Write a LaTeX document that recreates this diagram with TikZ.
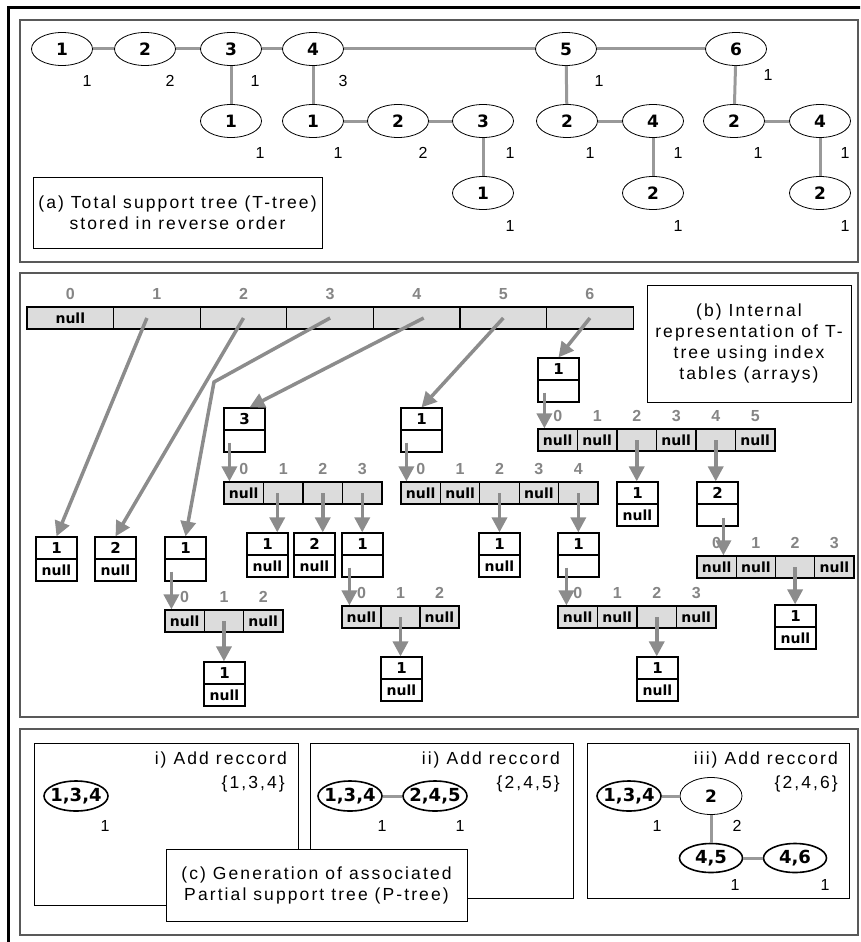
\documentclass[tikz,border=0pt]{standalone}
\usepackage{fontspec}
\setmainfont{Liberation Sans}
\newfontfamily\capfam{Liberation Sans}[LetterSpace=12]
\newfontfamily\cellfam{DejaVu Sans}
\usepackage{tikz}
\usetikzlibrary{arrows.meta}
\usetikzlibrary{shapes.geometric}
\definecolor{linkgray}{HTML}{999999}
\definecolor{ptrgray}{HTML}{8C8C8C}
\definecolor{cellgray}{HTML}{DCDCDC}
\definecolor{idxgray}{HTML}{858585}

\tikzset{
  panel/.style={draw=black!65, line width=1.2pt},
  caption/.style={draw, line width=1pt, fill=white, align=center, inner sep=0pt,
    font=\capfam\fontsize{17.5}{21}\selectfont},
  hdr/.style={anchor=east, inner sep=0pt, font=\capfam\fontsize{17.5}{20}\selectfont},
  tnode/.style={ellipse, draw, line width=0.8pt, fill=white, minimum width=61pt,
    minimum height=33pt, inner sep=0pt, font=\cellfam\bfseries\fontsize{17}{20}\selectfont},
  pnode/.style={tnode, line width=1.6pt, minimum width=64pt, minimum height=30pt,
    inner xsep=-10pt, font=\cellfam\bfseries\fontsize{18}{20}\selectfont},
  wt/.style={inner sep=0pt, font=\fontsize{16}{18}\selectfont},
  link/.style={draw=linkgray, line width=3pt},
  cell/.style={draw, line width=1.2pt, fill=cellgray, minimum height=22pt, inner sep=0pt},
  half/.style={draw, line width=1.2pt, fill=white, minimum width=41pt, minimum height=22pt,
    inner sep=0pt, font=\cellfam\bfseries\fontsize{14}{14}\selectfont},
  nulltxt/.style={inner sep=0pt, font=\cellfam\bfseries\fontsize{14}{14}\selectfont},
  idx/.style={inner sep=0pt, text=idxgray, font=\bfseries\fontsize{16}{18}\selectfont},
  ptr/.style={draw=ptrgray, line width=3.5pt, -{Triangle[length=15pt,width=15pt]}},
}

% record: name, left, top, item, lower field
\newcommand{\recbox}[5]{%
  \node[half] (#1) at (#2+20.5,#3+11) {\fontsize{15}{16}\selectfont #4};
  \node[half] (#1-n) at (#2+20.5,#3+33) {#5};
}
% index table: name, left, top, last index, cell width, null cells
\newcommand{\idxtable}[6]{%
  \foreach \k in {0,...,#4}{
    \node[cell, minimum width=#5pt] (#1-\k) at ({#2+(\k+0.5)*#5},#3+11) {};
    \node[idx] (#1-l\k) at ([yshift=12pt]#1-\k.north) {\k};
  }
  \foreach \k in {#6}{\node[nulltxt] at (#1-\k) {null};}
}

\begin{document}
\begin{tikzpicture}[x=1pt,y=-1pt]
  \useasboundingbox (0,0) rectangle (860,942);
  \clip (0,0) rectangle (860,942);
  \draw[line width=2.5pt] (8.5,7.5) rectangle (880,960);

  % (a) T-tree
  \draw[panel] (20,20) rectangle (858,262);

  \node[tnode] (t1) at (62,49) {1};
  \node[tnode] (t2) at (145,49) {2};
  \node[tnode] (t3) at (231,49) {3};
  \node[tnode] (t4) at (313,49) {4};
  \node[tnode] (t5) at (566,49) {5};
  \node[tnode] (t6) at (736,49) {6};
  \node[tnode] (t31) at (231,121) {1};
  \node[tnode] (t41) at (313,121) {1};
  \node[tnode] (t42) at (398,121) {2};
  \node[tnode] (t43) at (483,121) {3};
  \node[tnode] (t431) at (483,193) {1};
  \node[tnode] (t52) at (567,121) {2};
  \node[tnode] (t54) at (653,121) {4};
  \node[tnode] (t542) at (653,193) {2};
  \node[tnode] (t62) at (734,121) {2};
  \node[tnode] (t64) at (820,121) {4};
  \node[tnode] (t642) at (820,193) {2};

  \foreach \a/\b in {t1/t2,t2/t3,t3/t4,t4/t5,t5/t6,t3/t31,t4/t41,t41/t42,t42/t43,
      t43/t431,t5/t52,t52/t54,t54/t542,t6/t62,t62/t64,t64/t642}
    \draw[link] (\a) -- (\b);

  \node[wt] (w1) at (87,81) {1};
  \node[wt] (w2) at (170,81) {2};
  \node[wt] (w3) at (255,81) {1};
  \node[wt] (w4) at (343,81) {3};
  \node[wt] (w5) at (599,81) {1};
  \node[wt] (w6) at (768,75) {1};
  \node[wt] (w31) at (260,153) {1};
  \node[wt] (w41) at (338,153) {1};
  \node[wt] (w42) at (423,153) {2};
  \node[wt] (w43) at (510,153) {1};
  \node[wt] (w431) at (510,226) {1};
  \node[wt] (w52) at (590,153) {1};
  \node[wt] (w54) at (678,153) {1};
  \node[wt] (w542) at (678,226) {1};
  \node[wt] (w62) at (758,153) {1};
  \node[wt] (w64) at (845,153) {1};
  \node[wt] (w642) at (845,226) {1};

  \node[caption, minimum width=289pt, minimum height=71pt] (capa) at (177.5,212.5)
    {(a) Total support tree (T-tree)\\stored in reverse order};

  % (b) index tables
  \draw[panel] (20,273) rectangle (858,717);

  \idxtable{T}{27}{307}{6}{86.6}{0}
  \idxtable{A4}{224}{482}{3}{39.5}{0}
  \idxtable{A5}{401}{482}{4}{39.4}{0,1,3}
  \idxtable{A6}{538}{429}{5}{39.5}{0,1,3,5}
  \idxtable{A3}{165}{610}{2}{39.3}{0,2}
  \idxtable{A43}{342}{606}{2}{39}{0,2}
  \idxtable{A54}{558}{606}{3}{39.5}{0,1,3}
  \idxtable{A64}{697}{556}{3}{39.25}{0,1,3}

  \recbox{r1}{36}{537}{1}{null}
  \recbox{r2}{95}{537}{2}{null}
  \recbox{r3}{165}{537}{1}{}
  \recbox{r4}{224}{408}{3}{}
  \recbox{r5}{401}{408}{1}{}
  \recbox{r6}{538}{358}{1}{}
  \recbox{r41}{247}{533}{1}{null}
  \recbox{r42}{294}{533}{2}{null}
  \recbox{r43}{342}{533}{1}{}
  \recbox{r431}{381}{657}{1}{null}
  \recbox{r31}{204}{662}{1}{null}
  \recbox{r52}{479}{533}{1}{null}
  \recbox{r54}{558}{533}{1}{}
  \recbox{r542}{637}{657}{1}{null}
  \recbox{r62}{617}{482}{1}{null}
  \recbox{r64}{697}{482}{2}{}
  \recbox{r642}{775}{605}{1}{null}

  \coordinate (bend3) at (214,382);
  \draw[ptr] ([xshift=-10pt]T-1.center) -- (r1.north);
  \draw[ptr] (T-2.center) -- (r2.north);
  \draw[ptr] (T-3.center) -- (bend3) -- (r3.north);
  \draw[ptr] ([xshift=7pt]T-4.center) -- ([xshift=5pt]r4.north);
  \draw[ptr] (T-5.center) -- (r5.north);
  \draw[ptr] (T-6.center) -- (r6.north);

  \draw[ptr] ([xshift=6pt,yshift=10pt]r4-n.south west) -- ([xshift=6pt]A4-0.north west);
  \draw[ptr] ([xshift=6pt,yshift=10pt]r5-n.south west) -- ([xshift=6pt]A5-0.north west);
  \draw[ptr] ([xshift=7pt,yshift=10pt]r6-n.south west) -- ([xshift=7pt]A6-0.north west);
  \draw[ptr] ([xshift=7pt,yshift=10pt]r3-n.south west) -- ([xshift=7pt]A3-0.north west);
  \draw[ptr] ([xshift=8pt,yshift=10pt]r43-n.south west) -- ([xshift=8pt]A43-0.north west);
  \draw[ptr] ([xshift=9pt,yshift=10pt]r54-n.south west) -- ([xshift=9pt]A54-0.north west);
  \draw[ptr] ([xshift=27pt,yshift=9pt]r64-n.south west) -- ([xshift=27pt]A64-0.north west);

  \draw[ptr] ([xshift=-6pt]A4-1.center) -- ([xshift=-6pt]A4-1.center |- r41.north);
  \draw[ptr] (A4-2.center) -- (A4-2.center |- r42.north);
  \draw[ptr] (A4-3.center) -- (A4-3.center |- r43.north);
  \draw[ptr] (A43-1.center) -- (A43-1.center |- r431.north);
  \draw[ptr] (A3-1.center) -- (A3-1.center |- r31.north);
  \draw[ptr] (A5-2.center) -- (A5-2.center |- r52.north);
  \draw[ptr] (A5-4.center) -- (A5-4.center |- r54.north);
  \draw[ptr] (A54-2.center) -- (A54-2.center |- r542.north);
  \draw[ptr] (A6-2.center) -- (A6-2.center |- r62.north);
  \draw[ptr] (A6-4.center) -- (A6-4.center |- r64.north);
  \draw[ptr] (A64-2.center) -- (A64-2.center |- r642.north);

  \node[caption, minimum width=204pt, minimum height=117pt] (capb) at (749,343.5)
    {(b) Internal\\representation of T-\\tree using index\\tables (arrays)};

  % (c) P-tree
  \draw[panel] (20,729) rectangle (858,935);
  \draw[line width=1pt] (34,743) rectangle (298,905);
  \draw[line width=1pt] (310,743) rectangle (573,898);
  \draw[line width=1pt] (587,743) rectangle (849,898);

  \node[hdr] (h1) at (287,760) {i) Add reccord};
  \node[hdr] (s1) at (285,784) {\{1,3,4\}};
  \node[hdr] (h2) at (560,760) {ii) Add reccord};
  \node[hdr] (s2) at (560,784) {\{2,4,5\}};
  \node[hdr] (h3) at (838,760) {iii) Add reccord};
  \node[hdr] (s3) at (838,784) {\{2,4,6\}};

  \node[pnode] (p1) at (76,796) {1,3,4};
  \node[wt] (q1) at (105,826) {1};

  \node[pnode] (p21) at (350,796) {1,3,4};
  \node[pnode] (p22) at (435,796) {2,4,5};
  \draw[link] (p21) -- (p22);
  \node[wt] (q21) at (382,826) {1};
  \node[wt] (q22) at (460,826) {1};

  \node[pnode] (p31) at (629,796) {1,3,4};
  \node[tnode, minimum width=62pt, minimum height=37pt] (p32) at (711,796) {2};
  \node[pnode, minimum width=63pt, minimum height=29pt] (p33) at (711,858) {4,5};
  \node[pnode, minimum width=63pt, minimum height=29pt] (p34) at (795,858) {4,6};
  \draw[link] (p31) -- (p32);
  \draw[link] (p32) -- (p33);
  \draw[link] (p33) -- (p34);
  \node[wt] (q31) at (657,826) {1};
  \node[wt] (q32) at (737,826) {2};
  \node[wt] (q33) at (735,885) {1};
  \node[wt] (q34) at (825,885) {1};

  \node[caption, minimum width=301pt, minimum height=72pt] (capc) at (316.5,885)
    {(c) Generation of associated\\Partial support tree (P-tree)};
\end{tikzpicture}
\end{document}
